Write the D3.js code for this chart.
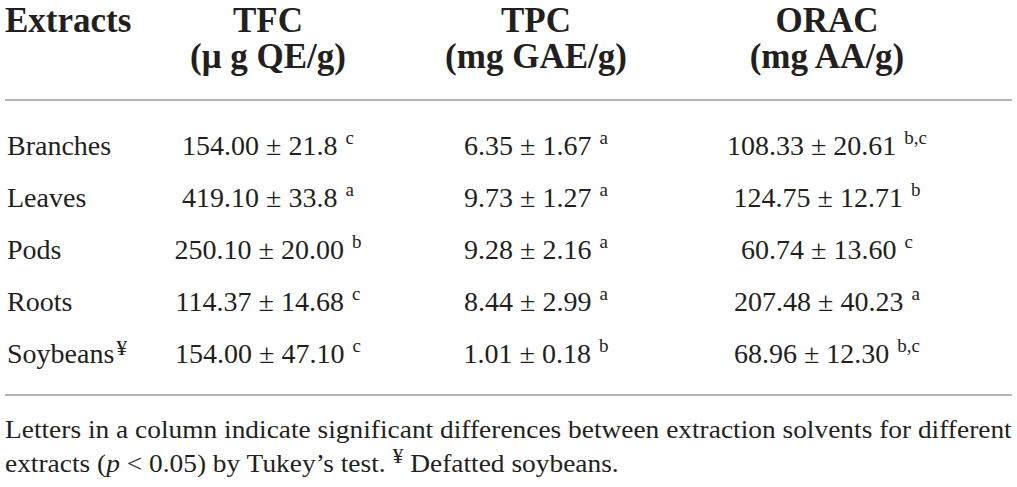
<!DOCTYPE html>
<html>
<head>
<meta charset="utf-8">
<script src="https://cdn.jsdelivr.net/npm/d3@7"></script>
<style>
  body { margin: 0; background: #fff; }
  text { font-family: "Liberation Serif", "Times New Roman", serif; fill: #231f20; }
</style>
</head>
<body>
<div id="chart"></div>
<script>
/* Table of antioxidant content for the extracts */

// Rows of the table
const extracts = ["Branches", "Leaves", "Pods", "Roots", "Soybeans"];
const extractMarks = ["", "", "", "", "¥"];

// Column headings
const columns = ["TFC", "TPC", "ORAC"];
const units = ["(μ g QE/g)", "(mg GAE/g)", "(mg AA/g)"];

// Values read as printed (mean, sd, Tukey letter)
const tfcMean = ["154.00", "419.10", "250.10", "114.37", "154.00"];
const tfcSd = ["21.8", "33.8", "20.00", "14.68", "47.10"];
const tfcLetter = ["c", "a", "b", "c", "c"];

const tpcMean = ["6.35", "9.73", "9.28", "8.44", "1.01"];
const tpcSd = ["1.67", "1.27", "2.16", "2.99", "0.18"];
const tpcLetter = ["a", "a", "a", "a", "b"];

const oracMean = ["108.33", "124.75", "60.74", "207.48", "68.96"];
const oracSd = ["20.61", "12.71", "13.60", "40.23", "12.30"];
const oracLetter = ["b,c", "b", "c", "a", "b,c"];

const footLine1 = "Letters in a column indicate significant differences between extraction solvents for different";

// Page layout
const width = 1017,
      height = 487,
      margin = ({ left: 5, right: 5 });

let svg = d3.select("#chart")
    .append("svg")
    .attr("width", width)
    .attr("height", height)
    .attr("viewBox", [0, 0, width, height]);

// column centres and row baselines
let x = d3.scaleOrdinal()
    .domain(columns)
    .range([268, 536, 827]);

let y = d3.scalePoint()
    .domain(extracts)
    .range([155, 363]);

// build the row records from the arrays
let rows = extracts.map((e, i) => ({
    name: e,
    mark: extractMarks[i],
    cells: [
        { col: "TFC", mean: tfcMean[i], sd: tfcSd[i], letter: tfcLetter[i] },
        { col: "TPC", mean: tpcMean[i], sd: tpcSd[i], letter: tpcLetter[i] },
        { col: "ORAC", mean: oracMean[i], sd: oracSd[i], letter: oracLetter[i] }
    ]
}));

// Header
let head = svg.append("g").attr("font-weight", "bold").attr("font-size", 35);

head.append("text")
    .attr("x", margin.left)
    .attr("y", 32)
    .text("Extracts");

head.selectAll(".col-title")
    .data(columns)
    .join("text")
    .attr("class", "col-title")
    .attr("x", d => x(d))
    .attr("y", 32)
    .attr("text-anchor", "middle")
    .text(d => d);

head.selectAll(".col-unit")
    .data(columns)
    .join("text")
    .attr("class", "col-unit")
    .attr("x", d => x(d))
    .attr("y", 68)
    .attr("text-anchor", "middle")
    .text((d, i) => units[i]);

// Rules
svg.selectAll(".rule")
    .data([100, 395])
    .join("line")
    .attr("class", "rule")
    .attr("x1", margin.left)
    .attr("x2", width - margin.right)
    .attr("y1", d => d)
    .attr("y2", d => d)
    .attr("stroke", "#9d9d9d")
    .attr("stroke-width", 1.5);

// Body rows
let row = svg.selectAll(".row")
    .data(rows)
    .join("g")
    .attr("class", "row")
    .attr("font-size", 28);

let label = row.append("text")
    .attr("x", margin.left + 2)
    .attr("y", d => y(d.name));
label.append("tspan").text(d => d.name);
label.append("tspan")
    .attr("dx", 2)
    .attr("dy", -8)
    .attr("font-size", 22)
    .text(d => d.mark);

row.selectAll(".cell")
    .data(d => d.cells.map(c => ({ ...c, row: d.name })))
    .join("text")
    .attr("class", "cell")
    .attr("x", d => x(d.col))
    .attr("y", d => y(d.row))
    .attr("text-anchor", "middle")
    .each(function (d) {
        let t = d3.select(this);
        t.append("tspan").text(`${d.mean} ± ${d.sd}`);
        t.append("tspan")
            .attr("dx", 8)
            .attr("dy", -11)
            .attr("font-size", 19)
            .text(d.letter);
    });

// Footnote, squeezed to the width of the rules
let foot = svg.append("g").attr("font-size", 25);

let f1 = foot.append("text")
    .attr("x", 0)
    .attr("y", 438)
    .text(footLine1);

let f2 = foot.append("text")
    .attr("x", 0)
    .attr("y", 472);
f2.append("tspan").text("extracts (");
f2.append("tspan").attr("font-style", "italic").text("p");
f2.append("tspan").text(" < 0.05) by Tukey’s test. ");
f2.append("tspan").attr("dy", -9).attr("font-size", 20).text("¥");
f2.append("tspan").attr("dy", 9).text(" Defatted soybeans.");

let natural = f1.node().getComputedTextLength();
let sx = (width - margin.left - margin.right) / natural;
foot.attr("transform", `translate(${margin.left},0) scale(${sx},1)`);
</script>
</body>
</html>
